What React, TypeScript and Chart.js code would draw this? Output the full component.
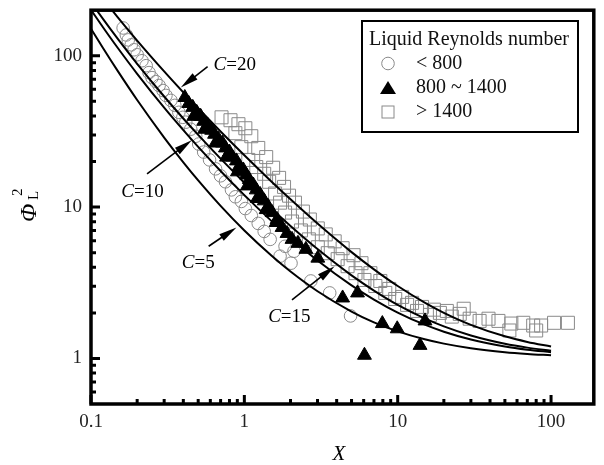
import React, { useEffect, useRef } from "react";
import { Chart, registerables } from "chart.js";

Chart.register(...registerables);

// ---------- data ----------
// Curves (Chisholm-type lines) sampled at these X values
const curveX = [0.1, 0.12, 0.15, 0.2, 0.3, 0.4, 0.5, 0.7, 1, 1.5, 2, 3, 5, 7, 10, 15, 20, 30, 50, 70, 100];
const curveC5 = [151, 112.1, 78.8, 51, 28.8, 19.75, 15, 10.18, 7, 4.78, 3.75, 2.78, 2.04, 1.73, 1.51, 1.338, 1.2525, 1.168, 1.1004, 1.0716, 1.0501];
const curveC10 = [201, 153.8, 112.1, 76, 45.4, 32.25, 25, 17.33, 12, 8.11, 6.25, 4.44, 3.04, 2.45, 2.01, 1.671, 1.5025, 1.334, 1.2004, 1.143, 1.1001];
const curveC15 = [226, 174.6, 128.8, 88.5, 53.8, 38.5, 30, 20.9, 14.5, 9.78, 7.5, 5.28, 3.54, 2.81, 2.26, 1.838, 1.6275, 1.418, 1.2504, 1.179, 1.1251];
const curveC20 = [301, 237.1, 178.8, 126, 78.8, 57.25, 45, 31.6, 22, 14.78, 11.25, 7.78, 5.04, 3.88, 3.01, 2.338, 2.0025, 1.668, 1.4004, 1.286, 1.2001];

// Re_L < 800 (open circles)
const circleX = [0.162, 0.170, 0.175, 0.183, 0.191, 0.200, 0.215, 0.229, 0.239, 0.250, 0.265, 0.278, 0.295, 0.308, 0.332, 0.352, 0.374, 0.397, 0.415, 0.447, 0.482, 0.504, 0.543, 0.593, 0.649, 0.699, 0.753, 0.824, 0.874, 0.956, 1.015, 1.110, 1.232, 1.347, 1.473, 1.710, 1.843, 2.015, 2.107, 2.715, 3.603, 4.928];
const circleY = [152.6, 137.3, 127.3, 118.1, 109.5, 101.5, 92.7, 86.0, 77.4, 71.7, 67.5, 63.6, 58.9, 54.7, 50.7, 47.0, 42.3, 39.2, 36.4, 32.7, 29.4, 26.1, 23.1, 20.5, 17.9, 16.1, 14.7, 13.0, 11.7, 10.9, 9.78, 8.80, 7.80, 6.91, 6.12, 4.74, 5.51, 4.26, 5.11, 3.25, 2.71, 1.91];

// 800 ~ 1400 (filled triangles)
const triX = [0.409, 0.434, 0.461, 0.489, 0.519, 0.543, 0.576, 0.612, 0.639, 0.679, 0.720, 0.753, 0.800, 0.836, 0.888, 0.928, 0.985, 1.030, 1.077, 1.144, 1.196, 1.269, 1.347, 1.430, 1.518, 1.635, 1.762, 1.897, 2.045, 2.236, 2.519, 3.013, 4.374, 5.469, 6.07, 7.94, 9.93, 13.98, 15.07, 0.468, 0.551, 0.649, 0.765, 0.901, 1.046, 1.214, 1.388, 1.611];
const triY = [53.0, 48.4, 45.6, 42.3, 39.8, 36.9, 34.8, 32.2, 30.3, 28.1, 26.5, 24.6, 23.1, 21.4, 20.2, 18.7, 17.6, 16.3, 15.2, 14.0, 13.0, 12.1, 11.0, 10.1, 9.20, 8.28, 7.34, 6.70, 6.12, 5.76, 5.26, 4.60, 2.51, 2.71, 1.05, 1.70, 1.57, 1.22, 1.77, 39.8, 32.7, 26.5, 21.4, 17.1, 13.8, 11.4, 9.63, 7.91];

// > 1400 (open squares)
const sqX = [0.710, 0.812, 0.915, 1.015, 1.110, 1.232, 1.388, 1.541, 1.685, 1.815, 1.956, 2.138, 2.409, 2.674, 3.013, 3.395, 3.882, 4.374, 5.152, 5.805, 6.637, 7.702, 8.810, 10.69, 12.41, 14.41, 17.23, 20.91, 25.38, 29.47, 34.20, 39.10, 45.39, 55.10, 65.89, 76.46, 86.15, 104.6, 128.8, 0.874, 0.956, 1.061, 1.196, 1.347, 1.451, 1.587, 1.710, 1.843, 2.045, 2.339, 2.634, 3.013, 3.498, 4.058, 4.712, 5.308, 6.070, 7.152, 8.301, 9.634, 11.52, 13.37, 16.23, 18.84, 22.53, 26.94, 53.48, 79.97];
const sqY = [39.2, 37.5, 35.3, 33.2, 29.4, 24.6, 21.4, 18.2, 15.6, 13.6, 11.9, 10.7, 9.34, 8.28, 7.23, 6.60, 5.94, 5.35, 4.81, 4.26, 3.66, 3.25, 2.88, 2.55, 2.33, 2.19, 2.10, 2.06, 1.97, 1.83, 1.77, 1.83, 1.77, 1.70, 1.72, 1.65, 1.65, 1.72, 1.72, 30.8, 24.9, 20.5, 18.4, 16.6, 14.7, 12.3, 10.7, 9.20, 8.03, 7.01, 6.12, 5.43, 4.96, 4.53, 4.07, 3.66, 3.30, 3.01, 2.71, 2.47, 2.26, 2.06, 1.94, 2.00, 1.89, 2.13, 1.53, 1.53];

// Axis ticks
const xMajorTicks = [0.1, 1, 10, 100];
const xMinorTicks = [0.2, 0.3, 0.4, 0.5, 0.6, 0.7, 0.8, 0.9, 2, 3, 4, 5, 6, 7, 8, 9, 20, 30, 40, 50, 60, 70, 80, 90];
const yMajorTicks = [1, 10, 100];
const yMinorTicks = [0.6, 0.7, 0.8, 0.9, 2, 3, 4, 5, 6, 7, 8, 9, 20, 30, 40, 50, 60, 70, 80, 90];

// Legend
const legendTitle = "Liquid Reynolds number";
const legendLabels = ["< 800", "800 ~ 1400", "> 1400"];

// Curve annotations (data coordinates): label, text anchor, arrow tail, arrow tip
const annLabels = ["20", "10", "5", "15"];
const annTextX = [0.630, 0.1575, 0.391, 1.43];
const annTextY = [87.3, 12.6, 4.26, 1.886];
const annFromX = [0.576, 0.232, 0.585, 2.045];
const annFromY = [84.7, 16.6, 5.51, 2.44];
const annToX = [0.385, 0.454, 0.888, 3.88];
const annToY = [61.7, 27.7, 7.34, 4.07];

const SERIF = '"Liberation Serif", "Times New Roman", serif';
const GRAY = "#8a8a8a";

const zip = (xs: number[], ys: number[]) => xs.map((x, i) => ({ x, y: ys[i] }));

function drawArrow(ctx: CanvasRenderingContext2D, x1: number, y1: number, x2: number, y2: number) {
  const ang = Math.atan2(y2 - y1, x2 - x1);
  const hl = 18, hw = 4;
  const c = Math.cos(ang), s = Math.sin(ang);
  ctx.beginPath();
  ctx.moveTo(x1, y1);
  ctx.lineTo(x2 - c * hl * 0.7, y2 - s * hl * 0.7);
  ctx.lineWidth = 1.6;
  ctx.strokeStyle = "#000";
  ctx.stroke();
  ctx.beginPath();
  ctx.moveTo(x2, y2);
  ctx.lineTo(x2 - hl * c + hw * s, y2 - hl * s - hw * c);
  ctx.lineTo(x2 - hl * c - hw * s, y2 - hl * s + hw * c);
  ctx.closePath();
  ctx.fillStyle = "#000";
  ctx.fill();
}

const decorPlugin = {
  id: "decor",
  afterDraw(chart: any) {
    const ctx: CanvasRenderingContext2D = chart.ctx;
    const { left, right, top, bottom } = chart.chartArea;
    const xs = chart.scales.x;
    const ys = chart.scales.y;
    ctx.save();

    // tick marks (inward)
    ctx.strokeStyle = "#000";
    ctx.lineWidth = 3;
    ctx.beginPath();
    xMajorTicks.forEach((v) => { const px = xs.getPixelForValue(v); ctx.moveTo(px, bottom); ctx.lineTo(px, bottom - 9); });
    xMinorTicks.forEach((v) => { const px = xs.getPixelForValue(v); ctx.moveTo(px, bottom); ctx.lineTo(px, bottom - 5); });
    yMajorTicks.forEach((v) => { const py = ys.getPixelForValue(v); ctx.moveTo(left, py); ctx.lineTo(left + 9, py); });
    yMinorTicks.forEach((v) => { const py = ys.getPixelForValue(v); ctx.moveTo(left, py); ctx.lineTo(left + 5, py); });
    ctx.stroke();

    // frame
    ctx.lineWidth = 3.5;
    ctx.strokeRect(left, top, right - left, bottom - top);

    // annotations
    annLabels.forEach((lab, i) => {
      drawArrow(ctx, xs.getPixelForValue(annFromX[i]), ys.getPixelForValue(annFromY[i]), xs.getPixelForValue(annToX[i]), ys.getPixelForValue(annToY[i]));
      const tx = xs.getPixelForValue(annTextX[i]);
      const ty = ys.getPixelForValue(annTextY[i]);
      ctx.fillStyle = "#000";
      ctx.textBaseline = "middle";
      ctx.textAlign = "left";
      ctx.font = `italic 19px ${SERIF}`;
      ctx.fillText("C", tx, ty);
      const w = ctx.measureText("C").width;
      ctx.font = `19px ${SERIF}`;
      ctx.fillText("=" + lab, tx + w, ty);
    });

    // legend box
    ctx.lineWidth = 2;
    ctx.strokeStyle = "#000";
    ctx.fillStyle = "#fff";
    ctx.fillRect(362, 21, 216, 111);
    ctx.strokeRect(362, 21, 216, 111);
    ctx.fillStyle = "#111";
    ctx.font = `20px ${SERIF}`;
    ctx.textBaseline = "middle";
    ctx.textAlign = "left";
    ctx.fillText(legendTitle, 369, 40);
    const rowY = [63.5, 88, 112];
    legendLabels.forEach((lab, i) => {
      const cy = rowY[i];
      const cx = 388;
      ctx.lineWidth = 1;
      if (i === 0) {
        ctx.beginPath();
        ctx.arc(cx, cy, 6.3, 0, Math.PI * 2);
        ctx.strokeStyle = GRAY;
        ctx.stroke();
      } else if (i === 1) {
        ctx.beginPath();
        ctx.moveTo(cx, cy - 7);
        ctx.lineTo(cx + 8, cy + 6);
        ctx.lineTo(cx - 8, cy + 6);
        ctx.closePath();
        ctx.fillStyle = "#000";
        ctx.fill();
      } else {
        ctx.strokeStyle = GRAY;
        ctx.strokeRect(cx - 6, cy - 6, 12, 12);
      }
      ctx.fillStyle = "#111";
      ctx.fillText(lab, 416, cy);
    });

    // axis titles
    ctx.fillStyle = "#000";
    ctx.textBaseline = "alphabetic";
    ctx.textAlign = "center";
    ctx.font = `italic 21px ${SERIF}`;
    ctx.fillText("X", 339, 460);

    ctx.translate(36, 222);
    ctx.rotate(-Math.PI / 2);
    ctx.textAlign = "left";
    ctx.font = `italic 24px ${SERIF}`;
    ctx.fillText("Φ", 0, 0);
    ctx.font = `15px ${SERIF}`;
    ctx.fillText("L", 22, 2);
    ctx.fillText("2", 26, -14);
    ctx.restore();
  },
};

export default function App() {
  const ref = useRef<HTMLCanvasElement | null>(null);
  useEffect(() => {
    document.body.style.margin = "0";
    if (!ref.current) return;
    const lineDs = (data: number[], label: string) => ({
      label,
      data: zip(curveX, data),
      showLine: true,
      borderColor: "#000",
      borderWidth: 2,
      pointRadius: 0,
      cubicInterpolationMode: "monotone" as const,
    });
    const chart = new Chart(ref.current, {
      type: "scatter",
      data: {
        datasets: [
          lineDs(curveC20, "C=20"),
          lineDs(curveC15, "C=15"),
          lineDs(curveC10, "C=10"),
          lineDs(curveC5, "C=5"),
          {
            label: legendLabels[1],
            data: zip(triX, triY),
            pointStyle: "triangle",
            pointRadius: 8,
            backgroundColor: "#000",
            borderColor: "#000",
            borderWidth: 1,
          },
          {
            label: legendLabels[2],
            data: zip(sqX, sqY),
            pointStyle: "rect",
            pointRadius: 9.2,
            backgroundColor: "rgba(0,0,0,0)",
            borderColor: GRAY,
            borderWidth: 1,
          },
          {
            label: legendLabels[0],
            data: zip(circleX, circleY),
            pointStyle: "circle",
            pointRadius: 6.3,
            backgroundColor: "rgba(0,0,0,0)",
            borderColor: GRAY,
            borderWidth: 1,
          },
        ],
      },
      options: {
        animation: false,
        responsive: false,
        layout: { padding: { top: 7, right: 7, left: 0, bottom: 0 } },
        plugins: { legend: { display: false }, tooltip: { enabled: false } },
        scales: {
          x: {
            type: "logarithmic",
            min: 0.1,
            max: 190,
            grid: { display: false, drawTicks: false },
            border: { display: false },
            afterBuildTicks: (axis: any) => { axis.ticks = xMajorTicks.map((v) => ({ value: v })); },
            afterFit: (axis: any) => {
              axis.height = 61;
              axis.paddingLeft = 0; axis.paddingRight = 0; axis.paddingTop = 0; axis.paddingBottom = 0;
            },
            ticks: {
              autoSkip: false,
              maxRotation: 0,
              padding: 7,
              color: "#222",
              font: { family: SERIF, size: 19 },
              callback: (v: any) => String(v),
            },
          },
          y: {
            type: "logarithmic",
            min: 0.5,
            max: 200,
            grid: { display: false, drawTicks: false },
            border: { display: false },
            afterBuildTicks: (axis: any) => { axis.ticks = yMajorTicks.map((v) => ({ value: v })); },
            afterFit: (axis: any) => {
              axis.width = 91;
              axis.paddingLeft = 0; axis.paddingRight = 0; axis.paddingTop = 0; axis.paddingBottom = 0;
            },
            ticks: {
              autoSkip: false,
              padding: 9,
              color: "#222",
              font: { family: SERIF, size: 19 },
              callback: (v: any) => String(v),
            },
          },
        },
      },
      plugins: [decorPlugin],
    });
    return () => chart.destroy();
  }, []);
  return (
    <div style={{ width: 604, height: 465 }}>
      <canvas ref={ref} width={604} height={465} style={{ display: "block" }} />
    </div>
  );
}
